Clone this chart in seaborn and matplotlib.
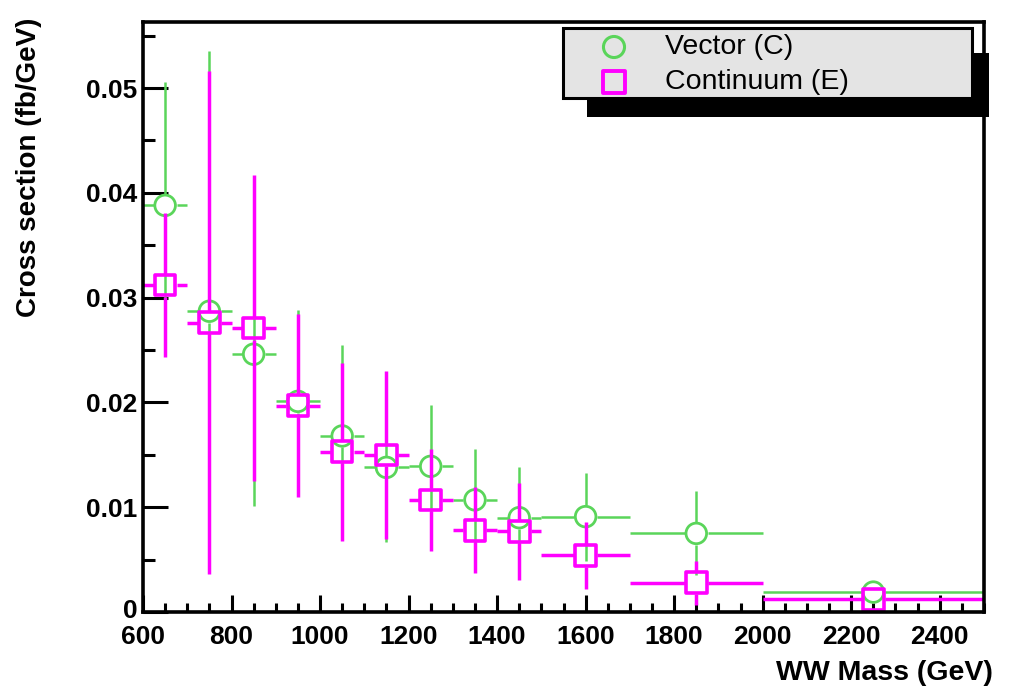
import numpy as np
import pandas as pd
import matplotlib
matplotlib.use("Agg")
import matplotlib.pyplot as plt
from matplotlib.patches import Rectangle
from matplotlib.ticker import MultipleLocator
from matplotlib.transforms import ScaledTranslation
import seaborn as sns

# ---------------- data ----------------
mass = [650, 750, 850, 950, 1050, 1150, 1250, 1350, 1450, 1600, 1850, 2250]
mass_halfwidth = [50, 50, 50, 50, 50, 50, 50, 50, 50, 100, 150, 250]
vector = [0.0388, 0.0287, 0.0246, 0.0201, 0.0168, 0.0138, 0.0139, 0.0107,
          0.0090, 0.0091, 0.0075, 0.0019]
vector_err = [0.0118, 0.0248, 0.0145, 0.0087, 0.0087, 0.0071, 0.0059, 0.0049,
              0.0048, 0.0042, 0.0040, 0.0005]
continuum = [0.0312, 0.0276, 0.0271, 0.0197, 0.0153, 0.0150, 0.0107, 0.0078,
             0.0077, 0.0054, 0.0028, 0.0012]
continuum_err = [0.0069, 0.0240, 0.0146, 0.0087, 0.0085, 0.0080, 0.0049, 0.0041,
                 0.0046, 0.0032, 0.0021, 0.0004]
series_names = ["Vector (C)", "Continuum (E)"]
xticks = [600, 800, 1000, 1200, 1400, 1600, 1800, 2000, 2200, 2400]
xticklabels = ["600", "800", "1000", "1200", "1400", "1600", "1800", "2000", "2200", "2400"]
yticks = [0, 0.01, 0.02, 0.03, 0.04, 0.05]
yticklabels = ["0", "0.01", "0.02", "0.03", "0.04", "0.05"]
xlabel = "WW Mass (GeV)"
ylabel = "Cross section (fb/GeV)"

GREEN = "#5ad55a"
MAGENTA = "#ff00ff"

sns.set_theme(style="white")
plt.rcParams["font.family"] = ["Liberation Sans", "DejaVu Sans"]

W, H = 1010, 690
fig = plt.figure(figsize=(W / 100, H / 100), dpi=100)
ax = fig.add_axes([143 / W, 1 - 612 / H, 841 / W, 590 / H])
ax.set_xlim(600, 2500)
ax.set_ylim(0, 0.0563)

# pixel -> data scale for marker gaps (ROOT style error bars)
px_x = ax.get_position().width * W / (2500 - 600)
px_y = ax.get_position().height * H / 0.0563


def draw_series(x, y, ex, ey, color, lw, marker, mlw, gap_px, z):
    x = np.asarray(x, float); y = np.asarray(y, float)
    ex = np.asarray(ex, float); ey = np.asarray(ey, float)
    gx = gap_px / px_x
    gy = gap_px / px_y
    # horizontal error bars
    ax.hlines(y, x - ex, x - gx, color=color, lw=lw, zorder=z)
    ax.hlines(y, x + gx, x + ex, color=color, lw=lw, zorder=z)
    # vertical error bars
    m = ey > gy
    ax.vlines(x[m], y[m] - ey[m], y[m] - gy, color=color, lw=lw, zorder=z)
    ax.vlines(x[m], y[m] + gy, y[m] + ey[m], color=color, lw=lw, zorder=z)
    df = pd.DataFrame({"x": x, "y": y})
    sns.scatterplot(data=df, x="x", y="y", marker=marker, s=220, ax=ax,
                    legend=False, zorder=z + 0.5, clip_on=True)
    coll = ax.collections[-1]
    coll.set_facecolor("none")
    coll.set_edgecolor(color)
    coll.set_linewidth(mlw)


draw_series(mass, vector, mass_halfwidth, vector_err, GREEN, 1.8, "o", 2.0, 11.5, 3)
draw_series(mass, continuum, mass_halfwidth, continuum_err, MAGENTA, 2.5, "s", 2.6, 11.5, 4)

# axes styling
for sp in ax.spines.values():
    sp.set_linewidth(2.6)
    sp.set_color("black")
    sp.set_zorder(6)
ax.set_xticks(xticks)
ax.set_xticklabels(xticklabels)
ax.set_yticks(yticks)
ax.set_yticklabels(yticklabels)
ax.xaxis.set_minor_locator(MultipleLocator(50))
ax.yaxis.set_minor_locator(MultipleLocator(0.005))
ax.tick_params(axis="both", which="both", direction="in", width=2.2, color="black",
               bottom=True, left=True, top=False, right=False)
ax.tick_params(axis="x", which="major", length=12, pad=9)
ax.tick_params(axis="x", which="minor", length=6.5)
ax.tick_params(axis="y", which="major", length=18, pad=4)
ax.tick_params(axis="y", which="minor", length=8.6)
for lab in ax.get_xticklabels() + ax.get_yticklabels():
    lab.set_fontsize(19)
    lab.set_fontweight("bold")
    lab.set_color("black")
# nudge the "0" label up slightly, as in the reference
zero_lab = ax.get_yticklabels()[0]
zero_lab.set_transform(zero_lab.get_transform() + ScaledTranslation(0, 3 / 100, fig.dpi_scale_trans))
ax.set_xlabel("")
ax.set_ylabel("")
ax.grid(False)

fig.text(993 / W, 1 - 673 / H, xlabel, ha="right", va="center",
         fontsize=20.5, fontweight="bold", color="black")
fig.text(29 / W, 1 - 18 / H, ylabel, ha="center", va="top", rotation=90,
         fontsize=20, fontweight="bold", color="black")

# legend (ROOT style box with shadow), drawn in pixel coordinates
lax = fig.add_axes([0, 0, 1, 1], zorder=10)
lax.set_xlim(0, W)
lax.set_ylim(H, 0)
lax.axis("off")
lax.patch.set_alpha(0)
lax.add_patch(Rectangle((587, 53), 402, 64, facecolor="black", edgecolor="none"))
lax.add_patch(Rectangle((563, 28), 409, 70, facecolor="#e4e4e4", edgecolor="black", lw=2.2))
lax.scatter([614], [47], marker="o", s=230, facecolors="none", edgecolors=GREEN, linewidths=2.2)
lax.scatter([614], [82], marker="s", s=230, facecolors="none", edgecolors=MAGENTA, linewidths=2.8)
lax.text(665, 47, series_names[0], ha="left", va="center", fontsize=20.5, color="black")
lax.text(665, 82, series_names[1], ha="left", va="center", fontsize=20.5, color="black")

fig.savefig("out.png", dpi=100, facecolor="white")
